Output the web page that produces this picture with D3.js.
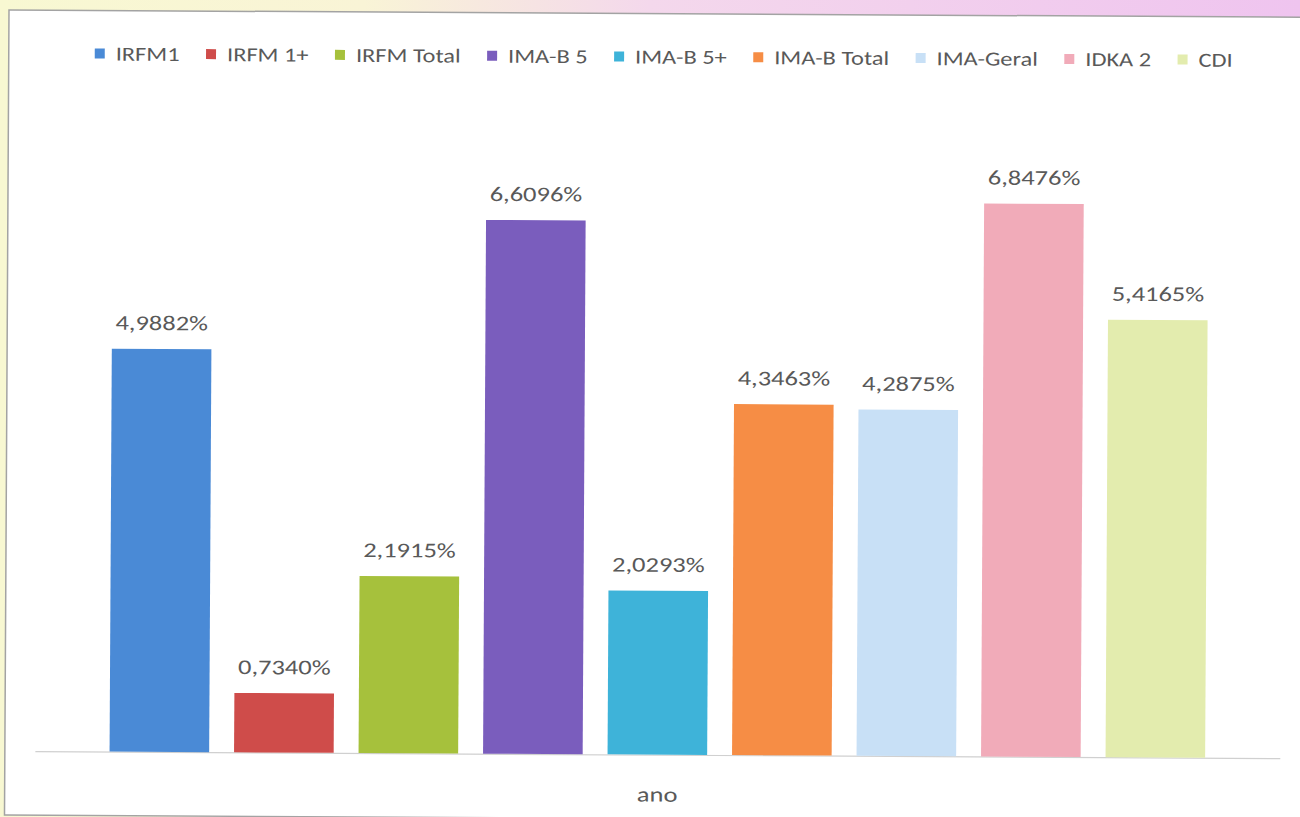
<!DOCTYPE html>
<html>
<head>
<meta charset="utf-8">
<script src="https://cdn.jsdelivr.net/npm/d3@7"></script>
<style>
	body { margin: 0; padding: 0; overflow: hidden; }
	svg { display: block; }
</style>
</head>
<body>
<div id="chart"></div>
<script>
var width = 1300,
	height = 817;

// data
var series = ["IRFM1", "IRFM 1+", "IRFM Total", "IMA-B 5", "IMA-B 5+", "IMA-B Total", "IMA-Geral", "IDKA 2", "CDI"];
var values = [4.9882, 0.7340, 2.1915, 6.6096, 2.0293, 4.3463, 4.2875, 6.8476, 5.4165];
var colors = ["#4a8ad6", "#cf4c4a", "#a6c13c", "#7a5dbd", "#3eb3d9", "#f68d45", "#c8e0f6", "#f1abb9", "#e3ecae"];
var category = "ano";

var fontFam = "Carlito, 'Open Sans', sans-serif";
var textColor = "#595959";
// the scan stretched the type sideways a bit
var stretch = 1.26;

var svg = d3.select("#chart")
	.append("svg")
	.attr("width", width)
	.attr("height", height);

// scanned page background
var defs = svg.append("defs");
var bgGrad = defs.append("linearGradient")
	.attr("id", "bg-grad")
	.attr("x1", "0%").attr("x2", "100%")
	.attr("y1", "0%").attr("y2", "0%");
bgGrad.append("stop").attr("offset", "0%").attr("stop-color", "#f8f8d2");
bgGrad.append("stop").attr("offset", "28%").attr("stop-color", "#f9f4d6");
bgGrad.append("stop").attr("offset", "50%").attr("stop-color", "#f4d8ec");
bgGrad.append("stop").attr("offset", "100%").attr("stop-color", "#efc4ef");

svg.append("rect")
	.attr("width", width)
	.attr("height", height)
	.attr("fill", "url(#bg-grad)");

// the scan is slightly tilted
var page = svg.append("g")
	.attr("transform", "rotate(0.32, 9, 10)");

page.append("rect")
	.attr("x", 9)
	.attr("y", 10)
	.attr("width", 1330)
	.attr("height", 805)
	.attr("fill", "#ffffff")
	.attr("stroke", "#a3a3a3")
	.attr("stroke-width", 1.5);

var x = d3.scaleBand()
	.domain(series)
	.range([39, 1284])
	.paddingInner(0.2)
	.paddingOuter(0.6);

var y = d3.scaleLinear()
	.domain([0, 8])
	.range([751, 105]);

var xAxis = d3.axisBottom(x)
	.tickValues([])
	.tickSizeOuter(0);

var gX = page.append("g")
	.attr("class", "axis")
	.attr("transform", "translate(0," + y(0) + ")")
	.call(xAxis);
gX.select(".domain").attr("stroke", "#d0d0d0").attr("stroke-width", 1.2);

page.append("g")
	.attr("class", "bars")
	.selectAll("rect")
	.data(values)
	.enter()
	.append("rect")
	.attr("x", function (d, i) { return x(series[i]); })
	.attr("y", function (d) { return y(d); })
	.attr("width", x.bandwidth())
	.attr("height", function (d) { return y(0) - y(d); })
	.attr("fill", function (d, i) { return colors[i]; });

page.append("g")
	.attr("class", "labels")
	.selectAll("text")
	.data(values)
	.enter()
	.append("text")
	.attr("transform", function (d, i) {
		return "translate(" + (x(series[i]) + x.bandwidth() / 2) + "," + (y(d) - 19) + ") scale(" + stretch + ",1)";
	})
	.attr("text-anchor", "middle")
	.attr("font-family", fontFam)
	.attr("font-size", 21)
	.attr("fill", textColor)
	.text(function (d) { return d.toFixed(4).replace(".", ",") + "%"; });

page.append("text")
	.attr("transform", "translate(" + (x.range()[0] + x.range()[1]) / 2 + ",798) scale(" + stretch + ",1)")
	.attr("text-anchor", "middle")
	.attr("font-family", fontFam)
	.attr("font-size", 21)
	.attr("fill", textColor)
	.text(category);

// legend: flow layout, spread between the first swatch and the last text
var legendLeft = 95, legendRight = 1233, sw = 10, swGap = 11;
var legend = page.append("g").attr("class", "legend");
var items = legend.selectAll("g")
	.data(series)
	.enter()
	.append("g");
items.append("rect")
	.attr("width", sw)
	.attr("height", sw)
	.attr("y", 48)
	.attr("fill", function (d, i) { return colors[i]; });
items.append("text")
	.attr("transform", "translate(" + (sw + swGap) + ",60) scale(" + 1.22 + ",1)")
	.attr("font-family", fontFam)
	.attr("font-size", 20)
	.attr("fill", textColor)
	.text(function (d) { return d; });

var widths = [];
items.select("text").each(function () { widths.push(this.getComputedTextLength() * 1.22); });
var used = d3.sum(widths) + series.length * (sw + swGap);
var gap = (legendRight - legendLeft - used) / (series.length - 1);
var cur = legendLeft;
items.attr("transform", function (d, i) {
	var t = "translate(" + cur + ",0)";
	cur += sw + swGap + widths[i] + gap;
	return t;
});
</script>
</body>
</html>
